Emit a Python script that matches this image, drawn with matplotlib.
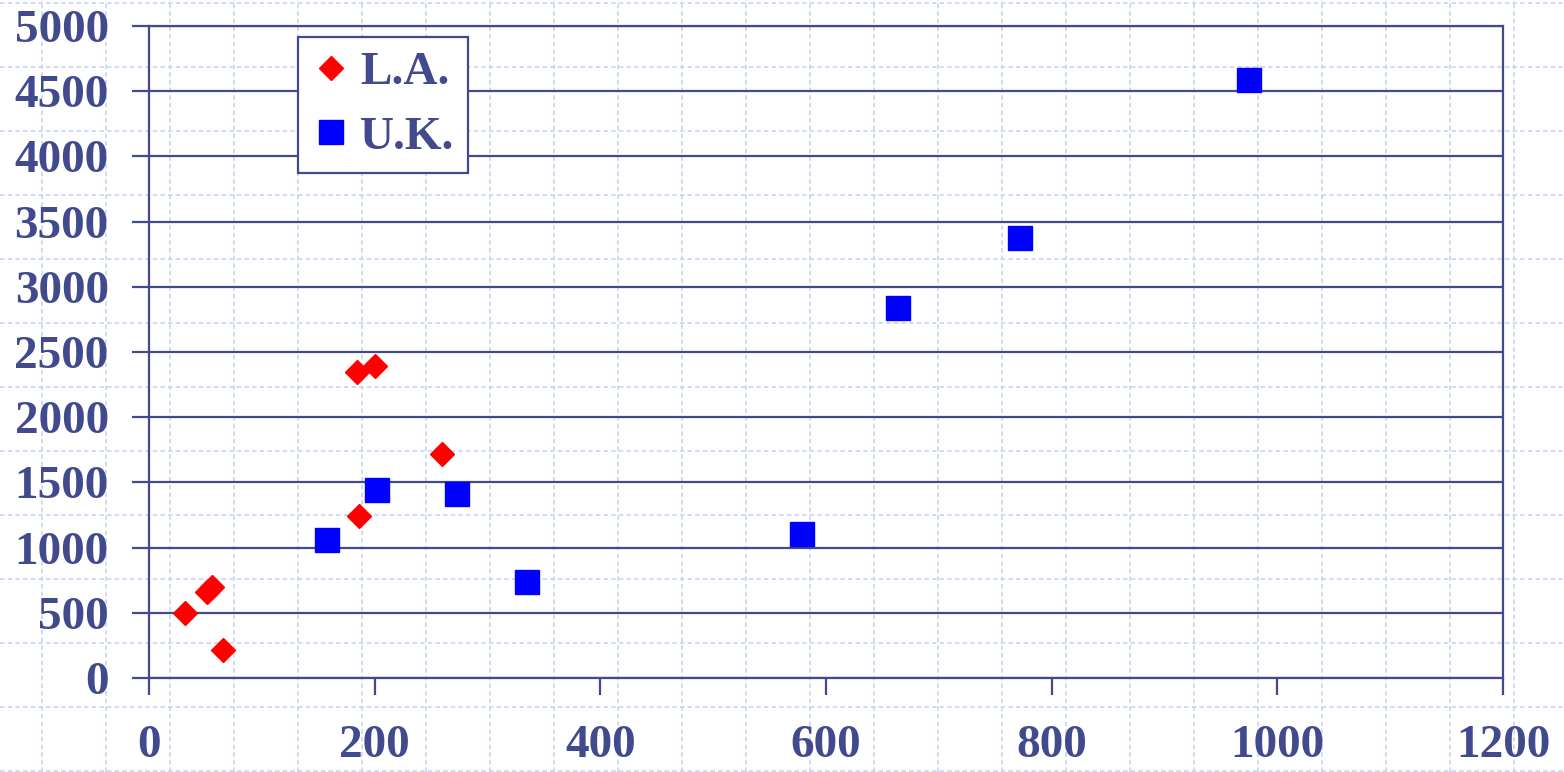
import matplotlib
matplotlib.use("Agg")
import matplotlib.pyplot as plt
from matplotlib.lines import Line2D

# Data
la_x = [32, 51, 56, 66, 184, 200, 186, 260]
la_y = [500, 660, 700, 215, 2350, 2390, 1240, 1720]
uk_x = [158, 202, 273, 335, 579, 664, 772, 975]
uk_y = [1060, 1445, 1413, 736, 1104, 2840, 3375, 4585]
x_ticks = [0, 200, 400, 600, 800, 1000, 1200]
y_ticks = [0, 500, 1000, 1500, 2000, 2500, 3000, 3500, 4000, 4500, 5000]

NAVY = '#414A8C'
BGLINE = '#C3D1F5'
W, H = 1564, 772

fig = plt.figure(figsize=(W / 100, H / 100), dpi=100)
fig.patch.set_facecolor('white')

# template background dashed grid
for px in range(42, W, 64):
    fig.add_artist(Line2D([px / W, px / W], [0, 1], transform=fig.transFigure,
                          color=BGLINE, lw=1.1, ls=(0, (3, 2)), zorder=0))
for py in range(3, H, 64):
    yy = 1 - py / H
    fig.add_artist(Line2D([0, 1], [yy, yy], transform=fig.transFigure,
                          color=BGLINE, lw=1.1, ls=(0, (3, 2)), zorder=0))

ax = fig.add_axes([149 / W, 1 - 678 / H, (1503 - 149) / W, (678 - 26) / H])
ax.patch.set_alpha(0)
ax.set_xlim(0, 1200)
ax.set_ylim(0, 5000)
ax.set_xticks(x_ticks)
ax.set_yticks(y_ticks)

for s in ax.spines.values():
    s.set_color(NAVY)
    s.set_linewidth(1.6)

ax.yaxis.grid(True, color=NAVY, lw=1.6)
ax.set_axisbelow(True)
ax.tick_params(axis='both', direction='out', length=12, width=1.6, color=NAVY,
               labelcolor=NAVY)
ax.tick_params(axis='y', pad=17)
ax.tick_params(axis='x', pad=22)
for lab in ax.get_xticklabels() + ax.get_yticklabels():
    lab.set_fontfamily('Liberation Serif')
    lab.set_fontweight('bold')
    lab.set_fontsize(34)

ax.plot(la_x, la_y, ls='none', marker='D', ms=12.7, color='#FF0000',
        mec='#FF0000', label='L.A.', zorder=3, clip_on=False)
ax.plot(uk_x, uk_y, ls='none', marker='s', ms=17.3, color='#0000FF',
        mec='#0000FF', label='U.K.', zorder=3, clip_on=False)

leg = ax.legend(loc='upper left', bbox_to_anchor=(298 / W, 1 - 37 / H),
                bbox_transform=fig.transFigure, borderaxespad=0,
                prop={'family': 'Liberation Serif', 'weight': 'bold', 'size': 34},
                labelcolor=NAVY, fancybox=False, framealpha=1, edgecolor=NAVY,
                handlelength=0.8, handletextpad=0.21, borderpad=0.3,
                labelspacing=0.45, numpoints=1)
leg.get_frame().set_linewidth(1.6)

fig.savefig('out.png', dpi=100)
